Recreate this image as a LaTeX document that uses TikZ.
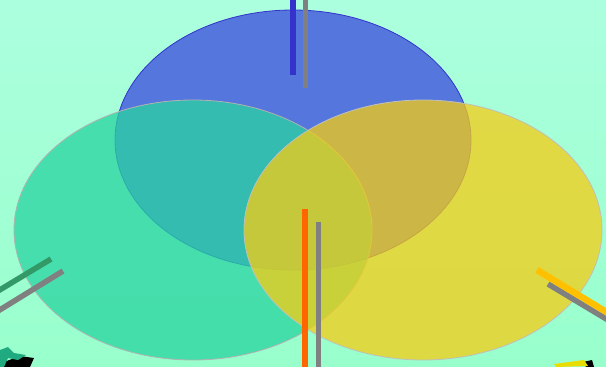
\documentclass[tikz,border=0pt]{standalone}
\begin{document}
\begin{tikzpicture}[x=1pt,y=-1pt,
  bar/.style={line width=#1, line cap=butt}]
\definecolor{bgtop}{RGB}{172,255,222}
\definecolor{bgbot}{RGB}{152,255,204}
\definecolor{eblue}{RGB}{85,118,220}
\definecolor{egreen}{RGB}{40,212,160}
\definecolor{eyellow}{RGB}{245,205,20}
\definecolor{bblue}{RGB}{51,51,204}
\definecolor{bgray}{RGB}{128,128,128}
\definecolor{borange}{RGB}{255,102,0}
\definecolor{bgold}{RGB}{255,192,0}
\definecolor{bgreen}{RGB}{51,153,102}
\useasboundingbox (0,0) rectangle (606,367);
\shade[top color=bgtop, bottom color=bgbot] (0,0) rectangle (606,367);
% ellipses
\node[coordinate] (cb) at (293,140) {};
\node[coordinate] (cg) at (193,230) {};
\node[coordinate] (cy) at (423,230) {};
\fill[eblue] (cb) ellipse [x radius=178, y radius=130];
\draw[bblue, line width=0.8pt] (cb) ellipse [x radius=178, y radius=130];
\fill[egreen, opacity=0.75] (cg) ellipse [x radius=179, y radius=130];
\draw[gray!60, line width=0.8pt] (cg) ellipse [x radius=179, y radius=130];
\fill[eyellow, opacity=0.75] (cy) ellipse [x radius=179, y radius=130];
\draw[gray!50, line width=0.8pt] (cy) ellipse [x radius=179, y radius=130];
% bars top
\coordinate (t1a) at (293,0); \coordinate (t1b) at (293,75);
\coordinate (t2a) at (305.5,0); \coordinate (t2b) at (305.5,88);
\draw[bar=6pt, bblue] (t1a) -- (t1b);
\draw[bar=5pt, bgray] (t2a) -- (t2b);
% bars bottom
\coordinate (b1a) at (305,209); \coordinate (b1b) at (305,367);
\coordinate (b2a) at (318,222); \coordinate (b2b) at (318,367);
\draw[bar=6pt, borange] (b1a) -- (b1b);
\draw[bar=5pt, bgray] (b2a) -- (b2b);
% left bars
\coordinate (l1a) at (-2,291); \coordinate (l1b) at (51,259);
\coordinate (l2a) at (-2,311); \coordinate (l2b) at (63,271);
\draw[bar=5.5pt, bgreen] (l1a) -- (l1b);
\draw[bar=5.5pt, bgray] (l2a) -- (l2b);
% right bars
\coordinate (r2a) at (548,284); \coordinate (r2b) at (608,320);
\coordinate (r1a) at (537,270); \coordinate (r1b) at (608,313);
\draw[bar=5.5pt, bgray] (r2a) -- (r2b);
\draw[bar=6.5pt, bgold] (r1a) -- (r1b);
% cut-off shapes at bottom corners
\fill[black] (4,362) -- (20,356) -- (34,358) -- (30,367) -- (4,367) -- cycle;
\fill[egreen!80!black] (0,350) -- (8,347) -- (14,353) -- (26,355) -- (18,360) -- (8,358) -- (4,367) -- (0,367) -- cycle;
\fill[black] (583,362) -- (592,360) -- (594,367) -- (586,367) -- cycle;
\fill[yellow!80!olive] (554,364) -- (584,360) -- (588,366) -- (556,367) -- cycle;
\end{tikzpicture}
\end{document}
